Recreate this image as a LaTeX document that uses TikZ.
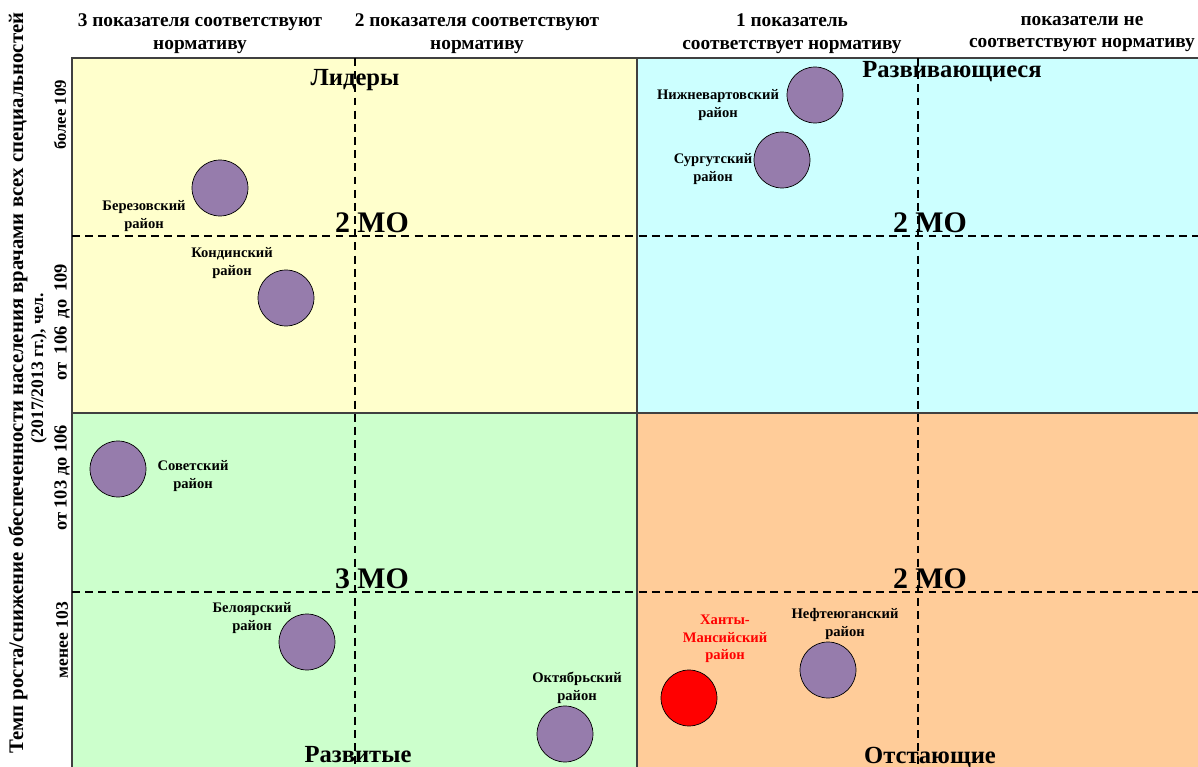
\documentclass[tikz,border=0pt]{standalone}
\usepackage{fontspec}
\setmainfont{Liberation Serif}
\usetikzlibrary{positioning}
\definecolor{lid}{RGB}{255,255,204}
\definecolor{rzv}{RGB}{204,255,255}
\definecolor{rvt}{RGB}{204,255,204}
\definecolor{ots}{RGB}{255,204,153}
\definecolor{bub}{RGB}{150,124,172}
\tikzset{
  rajon/.style={circle,draw=black,fill=bub,minimum size=1.12cm,inner sep=0pt},
  nazv/.style={font=\fontsize{8.3}{10}\selectfont\bfseries,align=center,inner sep=0pt},
  shapka/.style={font=\fontsize{11}{13}\selectfont\bfseries,align=center,inner sep=0pt},
  osj/.style={font=\fontsize{#1}{12}\selectfont\bfseries,rotate=90,inner sep=0pt},
  kvadr/.style={font=\fontsize{14}{16}\selectfont\bfseries,inner sep=0pt},
  chislo/.style={font=\fontsize{17}{19}\selectfont\bfseries,inner sep=0pt}
}
\begin{document}
\begin{tikzpicture}[x=0.02cm,y=-0.02cm]
\useasboundingbox(0,0)rectangle(1198,767);
% quadrants
\fill[lid](72,58)rectangle(637,413);
\fill[rzv](637,58)rectangle(1198,413);
\fill[rvt](72,413)rectangle(637,767);
\fill[ots](637,413)rectangle(1198,767);
\draw[line width=0.8pt,black!75](72,767)--(72,58)--(1198,58);
\draw[line width=0.8pt,black!75](637,58)--(637,767);
\draw[line width=0.8pt,black!75](72,413)--(1198,413);
\draw[dash pattern=on 4.5pt off 3pt,line width=0.6pt](355,58)--(355,767);
\draw[dash pattern=on 4.5pt off 3pt,line width=0.6pt](918,58)--(918,767);
\draw[dash pattern=on 4.5pt off 3pt,line width=0.6pt](72,236)--(1198,236);
\draw[dash pattern=on 4.5pt off 3pt,line width=0.6pt](72,592)--(1198,592);
% column headers
\node[shapka](k3)at(200,34){3 показателя соответствуют\\нормативу};
\node[shapka](k2)at(477,34){2 показателя соответствуют\\нормативу};
\node[shapka](k1)at(792,34){1 показатель\\соответствует нормативу};
\node[shapka](k0)at(1082,34){показатели не\\соответствуют нормативу};
% vertical axis
\node[osj=11.8](os1)at(18,383){Темп роста/снижение обеспеченности населения врачами всех специальностей};
\node[osj=10](os2)at(39,368){(2017/2013 гг.), чел.};
\node[osj=9.5](r1)at(60,115){более 109};
\node[osj=10.5](r2)at(62,322){от\hspace{2pt} 106\hspace{2pt} до\hspace{2pt} 109};
\node[osj=10.5](r3)at(62,478){от 103 до 106};
\node[osj=10](r4)at(62,640){менее 103};
% quadrant titles
\node[kvadr](lidery)at(355,80){Лидеры};
\node[kvadr](razv)at(952,72){Развивающиеся};
\node[kvadr](razvit)at(358,755){Развитые};
\node[kvadr](otst)at(930,757){Отстающие};
\node[chislo](mo1)at(372,223){2 МО};
\node[chislo](mo2)at(930,223){2 МО};
\node[chislo](mo3)at(372,579){3 МО};
\node[chislo](mo4)at(930,579){2 МО};
% districts
\node[rajon](ber)at(220,188){};
\node[nazv](berT)at(144,216){Березовский\\район};
\node[rajon](kon)at(286,298){};
\node[nazv](konT)at(232,263){Кондинский\\район};
\node[rajon](nzh)at(815,95){};
\node[nazv](nzhT)at(718,105){Нижневартовский\\район};
\node[rajon](sur)at(782,160){};
\node[nazv](surT)at(713,169){Сургутский\\район};
\node[rajon](sov)at(118,469){};
\node[nazv](sovT)at(193,476){Советский\\район};
\node[rajon](bel)at(307,642){};
\node[nazv](belT)at(252,618){Белоярский\\район};
\node[rajon](okt)at(565,734){};
\node[nazv](oktT)at(577,688){Октябрьский\\район};
\node[rajon,fill=red](hm)at(689,698){};
\node[nazv,text=red](hmT)at(725,639){Ханты-\\Мансийский\\район};
\node[rajon](nef)at(828,670){};
\node[nazv](nefT)at(845,624){Нефтеюганский\\район};
\end{tikzpicture}
\end{document}
